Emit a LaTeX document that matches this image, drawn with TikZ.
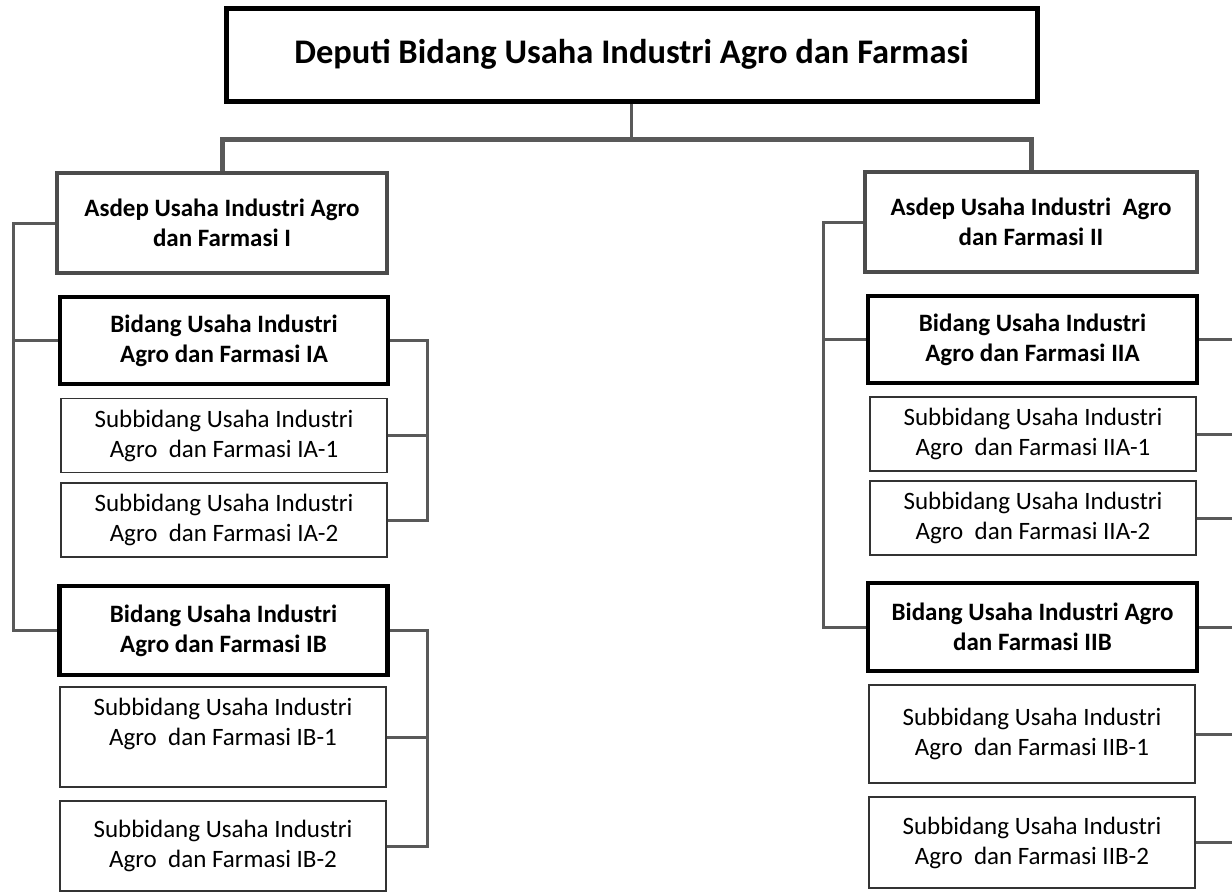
\documentclass[tikz,border=0pt]{standalone}
\usepackage{fontspec}
\setmainfont{Carlito}
\begin{document}
\begin{tikzpicture}[x=1pt, y=-1pt,
    deputibox/.style={draw=black, line width=5pt, fill=white, inner sep=0pt,
                      minimum width=811pt, minimum height=93pt, align=center,
                      font=\fontsize{34.5}{40}\selectfont\bfseries},
    asdepbox/.style={draw=black!70, line width=4pt, fill=white, inner sep=0pt,
                     minimum width=330pt, minimum height=100pt, align=center,
                     font=\fontsize{25}{30.5}\selectfont\bfseries},
    bidangbox/.style={draw=black, line width=4.5pt, fill=white, inner sep=0pt,
                      minimum width=328pt, minimum height=87pt, align=center,
                      font=\fontsize{25}{30}\selectfont\bfseries},
    subbox/.style={draw=black!80, line width=1.5pt, fill=white, inner sep=0pt,
                   minimum width=326pt, minimum height=74pt, align=center,
                   font=\fontsize{25}{30}\selectfont},
    link/.style={draw=black!65, line width=3pt},
    bar/.style={draw=black!65, line width=5pt}]
	\useasboundingbox (0,0) rectangle (1232,892);
	\node[deputibox] (deputi) at (631.5, 54.5) {Deputi Bidang Usaha Industri Agro dan Farmasi};
	\node[asdepbox] (asdepI) at (222, 223) {Asdep Usaha Industri Agro\\dan Farmasi I};
	\node[asdepbox, minimum width=332pt] (asdepII) at (1031, 222) {Asdep Usaha Industri~~Agro\\dan Farmasi II};
	\node[bidangbox] (bidIA) at (224, 340.5) {Bidang Usaha Industri\\Agro dan Farmasi IA};
	\node[subbox] (subIA1) at (224, 435.5) {Subbidang Usaha Industri\\Agro~~dan Farmasi IA-1};
	\node[subbox] (subIA2) at (224, 520) {Subbidang Usaha Industri\\Agro~~dan Farmasi IA-2};
	\node[bidangbox, minimum height=89pt] (bidIB) at (223.5, 630.5) {Bidang Usaha Industri\\Agro dan Farmasi IB};
	\node[subbox, minimum height=100pt] (subIB1) at (223, 737) {Subbidang Usaha Industri\\Agro~~dan Farmasi IB-1\\[0pt]\mbox{}};
	\node[subbox, minimum height=90pt] (subIB2) at (223, 846) {Subbidang Usaha Industri\\Agro~~dan Farmasi IB-2};
	\node[bidangbox, minimum width=329pt] (bidIIA) at (1032.5, 339.5) {Bidang Usaha Industri\\Agro dan Farmasi IIA};
	\node[subbox] (subIIA1) at (1033, 434) {Subbidang Usaha Industri\\Agro~~dan Farmasi IIA-1};
	\node[subbox] (subIIA2) at (1033, 518) {Subbidang Usaha Industri\\Agro~~dan Farmasi IIA-2};
	\node[bidangbox, minimum width=329pt, minimum height=88pt] (bidIIB) at (1032.5, 627) {Bidang Usaha Industri Agro\\dan Farmasi IIB};
	\node[subbox, minimum height=98pt] (subIIB1) at (1032, 734) {Subbidang Usaha Industri\\Agro~~dan Farmasi IIB-1};
	\node[subbox, minimum height=91pt] (subIIB2) at (1032, 842.5) {Subbidang Usaha Industri\\Agro~~dan Farmasi IIB-2};
	\coordinate (hub) at (631.5, 139);
	\coordinate (spineI) at (13, 223);
	\coordinate (spineII) at (823, 222);
	\coordinate (railA) at (427, 340.5);
	\coordinate (railB) at (427, 630.5);
	\coordinate (rim) at (1232, 0);
	\path[link] (deputi.south) -- (hub);
	\path[bar] (asdepI.north) |- (hub) -| (asdepII.north);
	\path[link] (asdepI.west) -- (spineI) |- (bidIB.west);
	\path[link] (bidIA.west) -- (spineI |- bidIA.west);
	\path[link] (asdepII.west) -- (spineII) |- (bidIIB.west);
	\path[link] (bidIIA.west) -- (spineII |- bidIIA.west);
	\path[link] (bidIA.east) -- (railA) |- (subIA2.east);
	\path[link] (subIA1.east) -- (railA |- subIA1.east);
	\path[link] (bidIB.east) -- (railB) |- (subIB2.east);
	\path[link] (subIB1.east) -- (railB |- subIB1.east);
	\path[link] (bidIIA.east) -- (rim |- bidIIA.east);
	\path[link] (subIIA1.east) -- (rim |- subIIA1.east);
	\path[link] (subIIA2.east) -- (rim |- subIIA2.east);
	\path[link] (bidIIB.east) -- (rim |- bidIIB.east);
	\path[link] (subIIB1.east) -- (rim |- subIIB1.east);
	\path[link] (subIIB2.east) -- (rim |- subIIB2.east);
\end{tikzpicture}
\end{document}
